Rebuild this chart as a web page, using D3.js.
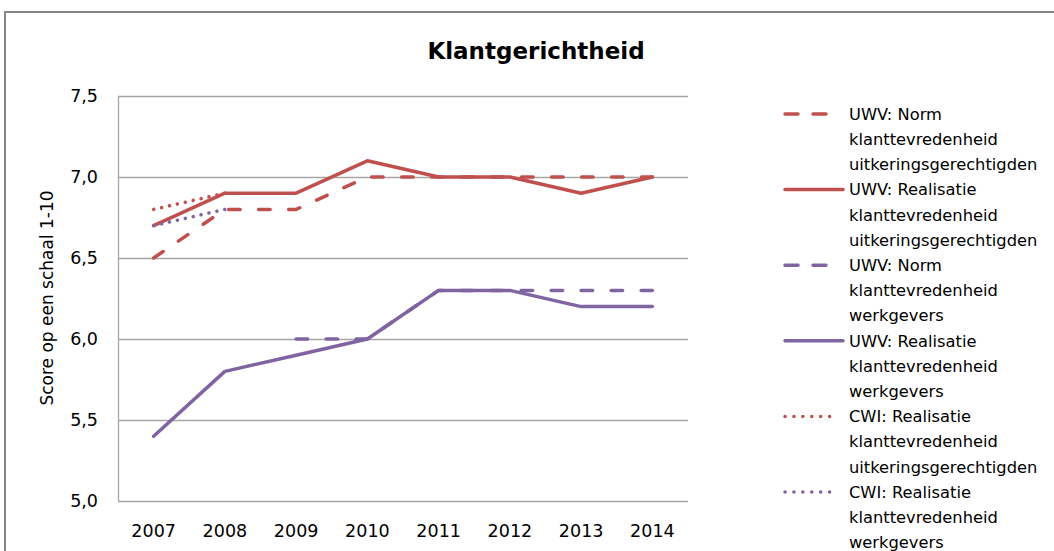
<!DOCTYPE html>
<html>
<head>
<meta charset="utf-8">
<script src="https://cdn.jsdelivr.net/npm/d3@7"></script>
<style>
    body { margin: 0; background: #fff; }
    svg { display: block; font-family: "DejaVu Sans", sans-serif; }
</style>
</head>
<body>
<div id="chart"></div>
<script>
// categories and series
const years = ['2007', '2008', '2009', '2010', '2011', '2012', '2013', '2014'];
const yTicks = [5.0, 5.5, 6.0, 6.5, 7.0, 7.5];

const normUitk = [6.5, 6.8, 6.8, 7.0, 7.0, 7.0, 7.0, 7.0];
const realUitk = [6.7, 6.9, 6.9, 7.1, 7.0, 7.0, 6.9, 7.0];
const normWerk = [null, null, 6.0, 6.0, 6.3, 6.3, 6.3, 6.3];
const realWerk = [5.4, 5.8, 5.9, 6.0, 6.3, 6.3, 6.2, 6.2];
const cwiUitk = [6.8, 6.9, null, null, null, null, null, null];
const cwiWerk = [6.7, 6.8, null, null, null, null, null, null];

const seriesNames = [
    ['UWV: Norm', 'klanttevredenheid', 'uitkeringsgerechtigden'],
    ['UWV: Realisatie', 'klanttevredenheid', 'uitkeringsgerechtigden'],
    ['UWV: Norm', 'klanttevredenheid', 'werkgevers'],
    ['UWV: Realisatie', 'klanttevredenheid', 'werkgevers'],
    ['CWI: Realisatie', 'klanttevredenheid', 'uitkeringsgerechtigden'],
    ['CWI: Realisatie', 'klanttevredenheid', 'werkgevers']
];

const red = '#C0504D';
const purple = '#8064A2';

const series = [
    {name: seriesNames[0], values: normUitk, color: red, style: 'dash'},
    {name: seriesNames[1], values: realUitk, color: red, style: 'solid'},
    {name: seriesNames[2], values: normWerk, color: purple, style: 'dash'},
    {name: seriesNames[3], values: realWerk, color: purple, style: 'solid'},
    {name: seriesNames[4], values: cwiUitk, color: red, style: 'dot'},
    {name: seriesNames[5], values: cwiWerk, color: purple, style: 'dot'}
];

const width = 1054, height = 551;
const margin = {top: 96, left: 118, right: 366, bottom: 50};
const plotW = width - margin.left - margin.right;
const plotH = height - margin.top - margin.bottom;

const svg = d3.select('#chart').append('svg')
    .attr('width', width)
    .attr('height', height);

// outer frame (runs off the right and bottom edges)
svg.append('rect')
    .attr('x', 5)
    .attr('y', 12)
    .attr('width', 1100)
    .attr('height', 600)
    .attr('fill', 'none')
    .attr('stroke', '#868686')
    .attr('stroke-width', 2);

svg.append('text')
    .attr('x', 536)
    .attr('y', 59)
    .attr('text-anchor', 'middle')
    .style('font-size', '23px')
    .style('font-weight', 'bold')
    .text('Klantgerichtheid');

const g = svg.append('g')
    .attr('transform', `translate(${margin.left},${margin.top})`);

const x = d3.scaleBand()
    .domain(years)
    .range([0, plotW]);

const y = d3.scaleLinear()
    .domain([5, 7.5])
    .range([plotH, 0]);

const fmt = d => d3.format('.1f')(d).replace('.', ',');

// gridlines
g.append('g')
    .call(d3.axisLeft(y).tickValues(yTicks).tickSize(-plotW).tickFormat(''))
    .call(a => a.select('.domain').remove())
    .call(a => a.selectAll('line').attr('stroke', '#a6a6a6').attr('stroke-width', 1.3));

// y axis
g.append('g')
    .call(d3.axisLeft(y).tickValues(yTicks).tickSize(0).tickPadding(20).tickFormat(fmt))
    .call(a => a.select('.domain').attr('stroke', '#a6a6a6').attr('stroke-width', 1.3))
    .call(a => a.selectAll('text')
        .style('font-size', '17.5px')
        .style('font-family', '"DejaVu Sans", sans-serif')
        .attr('fill', '#000'));

// x axis
g.append('g')
    .attr('transform', `translate(0,${plotH})`)
    .call(d3.axisBottom(x).tickSize(0).tickPadding(24))
    .call(a => a.select('.domain').remove())
    .call(a => a.selectAll('text')
        .style('font-size', '17.5px')
        .style('font-family', '"DejaVu Sans", sans-serif')
        .attr('fill', '#000'));

// y axis title
svg.append('text')
    .attr('transform', 'translate(53,298) rotate(-90)')
    .attr('text-anchor', 'middle')
    .style('font-size', '17px')
    .text('Score op een schaal 1-10');

const dashes = {solid: null, dash: '11.5 18.5', dot: '0.1 8'};

const line = d3.line()
    .defined(d => d != null)
    .x((d, i) => x(years[i]) + x.bandwidth() / 2)
    .y(d => y(d));

g.selectAll('.series')
    .data(series)
    .enter().append('path')
    .attr('class', 'series')
    .attr('d', d => line(d.values))
    .attr('fill', 'none')
    .attr('stroke', d => d.color)
    .attr('stroke-width', 3.5)
    .attr('stroke-linecap', 'round')
    .attr('stroke-linejoin', 'round')
    .attr('stroke-dasharray', d => dashes[d.style]);

// legend
const legendDash = {solid: null, dash: '13 15', dot: '0.1 8.8'};
const lineH = 25.2;
const legend = svg.append('g')
    .attr('transform', 'translate(785,114)');

series.forEach((s, i) => {
    const top = i * 3 * lineH;
    legend.append('line')
        .attr('x1', 0)
        .attr('x2', s.style === 'solid' ? 58 : 53)
        .attr('y1', top)
        .attr('y2', top)
        .attr('stroke', s.color)
        .attr('stroke-width', 3.5)
        .attr('stroke-linecap', 'round')
        .attr('stroke-dasharray', legendDash[s.style]);

    s.name.forEach((t, j) => {
        legend.append('text')
            .attr('x', 64)
            .attr('y', top + j * lineH)
            .attr('dy', '0.35em')
            .style('font-size', '16.3px')
            .text(t);
    });
});
</script>
</body>
</html>
